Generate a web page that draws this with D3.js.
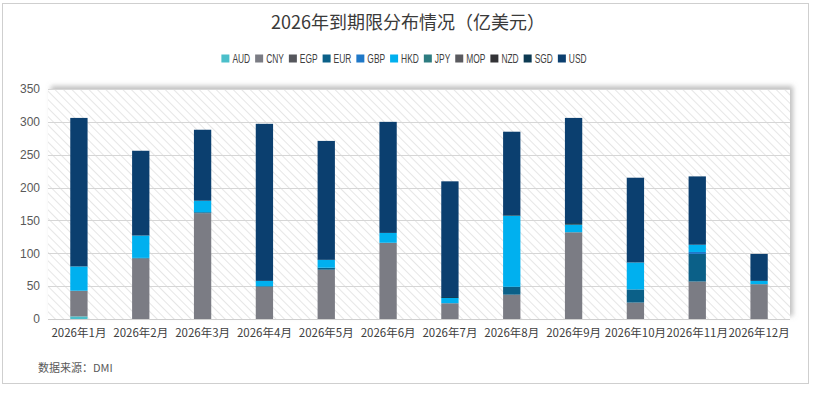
<!DOCTYPE html>
<html><head><meta charset="utf-8">
<script src="https://cdn.jsdelivr.net/npm/d3@7"></script>
<style>
html,body{margin:0;padding:0;background:#fff;}
svg{display:block;}
</style></head>
<body>
<svg id="chart" width="816" height="395"></svg>
<script>
const months = ["2026年1月","2026年2月","2026年3月","2026年4月","2026年5月","2026年6月","2026年7月","2026年8月","2026年9月","2026年10月","2026年11月","2026年12月"];
const currencies = ["AUD","CNY","EGP","EUR","GBP","HKD","JPY","MOP","NZD","SGD","USD"];
const colors = ["#4bbfca","#7b7c84","#55565c","#0b6088","#1f78c8","#00b0ef","#2e7c80","#5a5a5f","#333336","#0d3a52","#0b3f6f"];
const AUD = [4,0,0,0,0,0,0,0,0,0,0,0];
const CNY = [39,92,161,49,75,116,24,37,132,25,57,53];
const EGP = [0,0,0,0,0,0,0,0,0,0,0,0];
const EUR = [0,1,1.5,1,3,0,0,12,0,20,42,0];
const GBP = [0,0,0,0,0,0,0,0,0,0,3,0];
const HKD = [37,34,17.5,8,12,15,8,108,11.5,41,11,5];
const JPY = [0,0,0,0,0,0,0,0,0,0,0,0];
const MOP = [0,0,0,0,0,0,0,0,0,0,0,0];
const NZD = [0,0,0,0,0,0,0,0,0,0,0,0];
const SGD = [0,0,0,0,0,0,1.5,1,2.5,0,0,0];
const USD = [226,129,108,239,181,169,176,127,160,129,104,41];
const yTicks = [0,50,100,150,200,250,300,350];
const titleText = "2026年到期限分布情况（亿美元）";
const sourceText = "数据来源：DMI";

const seriesValues = [AUD,CNY,EGP,EUR,GBP,HKD,JPY,MOP,NZD,SGD,USD];
const table = months.map((m,i)=>{const o={month:m}; currencies.forEach((c,j)=>o[c]=seriesValues[j][i]); return o;});

const svg = d3.select("#chart");
const defs = svg.append("defs");
const pat = defs.append("pattern").attr("id","hatch").attr("patternUnits","userSpaceOnUse")
  .attr("width",6).attr("height",6).attr("patternTransform","rotate(45)");
pat.append("rect").attr("width",6).attr("height",6).attr("fill","#ffffff");
pat.append("line").attr("x1",0).attr("y1",0).attr("x2",6).attr("y2",0).attr("stroke","#e6e6e6").attr("stroke-width",2);
const flt = defs.append("filter").attr("id","sh").attr("x","-10%").attr("y","-20%").attr("width","120%").attr("height","140%");
flt.append("feDropShadow").attr("dx",3).attr("dy",-3).attr("stdDeviation",2.5).attr("flood-color","#8a8a8a").attr("flood-opacity",0.55);

// outer frame
svg.append("rect").attr("x",2.5).attr("y",3.5).attr("width",806).attr("height",380)
  .attr("fill","#fff").attr("stroke","#cfcfcf").attr("stroke-width",1);

const margin = {left:48, right:26, top:89, bottom:76};
const W = 816, H = 395;
const x = d3.scaleBand().domain(months).range([margin.left, W-margin.right]).paddingInner(0.72).paddingOuter(0.36);
const y = d3.scaleLinear().domain([0,350]).range([H-margin.bottom, margin.top]);

// plot background with shadow + hatch
svg.append("rect").attr("x",margin.left).attr("y",margin.top).attr("width",W-margin.right-margin.left).attr("height",y(0)-margin.top)
  .attr("fill","#fff").attr("filter","url(#sh)");
svg.append("rect").attr("x",margin.left).attr("y",margin.top).attr("width",W-margin.right-margin.left).attr("height",y(0)-margin.top)
  .attr("fill","url(#hatch)");

// gridlines
svg.append("g").selectAll("line").data(yTicks).join("line")
  .attr("x1",margin.left).attr("x2",W-margin.right)
  .attr("y1",d=>Math.round(y(d))+0.5).attr("y2",d=>Math.round(y(d))+0.5)
  .attr("stroke",d=>d===0?"#cfcfcf":"#d6d6d6").attr("stroke-width",1);

// y axis labels
const yAxis = d3.axisLeft(y).tickValues(yTicks).tickSize(0).tickPadding(8);
const ya = svg.append("g").attr("transform",`translate(${margin.left},0)`).call(yAxis);
ya.select(".domain").remove();
ya.selectAll("text").attr("font-family","Liberation Sans, Arial, sans-serif").attr("font-size",12).attr("fill","#595959");

// bars
const stack = d3.stack().keys(currencies)(table);
const color = d3.scaleOrdinal().domain(currencies).range(colors);
svg.append("g").selectAll("g").data(stack).join("g").attr("fill",d=>color(d.key))
  .selectAll("rect").data(d=>d).join("rect")
  .attr("x",d=>x(d.data.month)).attr("width",x.bandwidth())
  .attr("y",d=>y(d[1])).attr("height",d=>Math.max(0,y(d[0])-y(d[1])));

// x axis labels
const xAxis = d3.axisBottom(x).tickSize(0).tickPadding(10);
const xa = svg.append("g").attr("transform",`translate(0,${y(0)})`).call(xAxis);
xa.select(".domain").remove();
xa.selectAll("text").attr("font-family","Noto Sans CJK SC, sans-serif").attr("font-size",11.5).attr("fill","#404040");

// title
svg.append("text").attr("x",408).attr("y",29).attr("text-anchor","middle")
  .attr("font-family","Noto Sans CJK SC, sans-serif").attr("font-size",18).attr("fill","#3a3a3a").text(titleText);

// legend
const lg = svg.append("g").attr("font-family","Liberation Sans, sans-serif").attr("font-size",12).attr("fill","#404040");
let cx = 0;
currencies.forEach((c,i)=>{
  const g = lg.append("g").attr("transform",`translate(${cx},0)`);
  g.append("rect").attr("x",0).attr("y",-7.5).attr("width",8).attr("height",8).attr("fill",colors[i]);
  const t = g.append("text").attr("x",11).attr("y",1).text(c);
  const w = t.node().getComputedTextLength() * 0.7;
  t.attr("textLength",w).attr("lengthAdjust","spacingAndGlyphs");
  cx += 11 + w + 5;
});
const totalW = cx - 5;
lg.attr("transform",`translate(${404 - totalW/2},62)`);

// source
svg.append("text").attr("x",38).attr("y",372).attr("font-family","Noto Sans CJK SC, sans-serif")
  .attr("font-size",11).attr("fill","#595959").text(sourceText);
</script>
</body></html>
